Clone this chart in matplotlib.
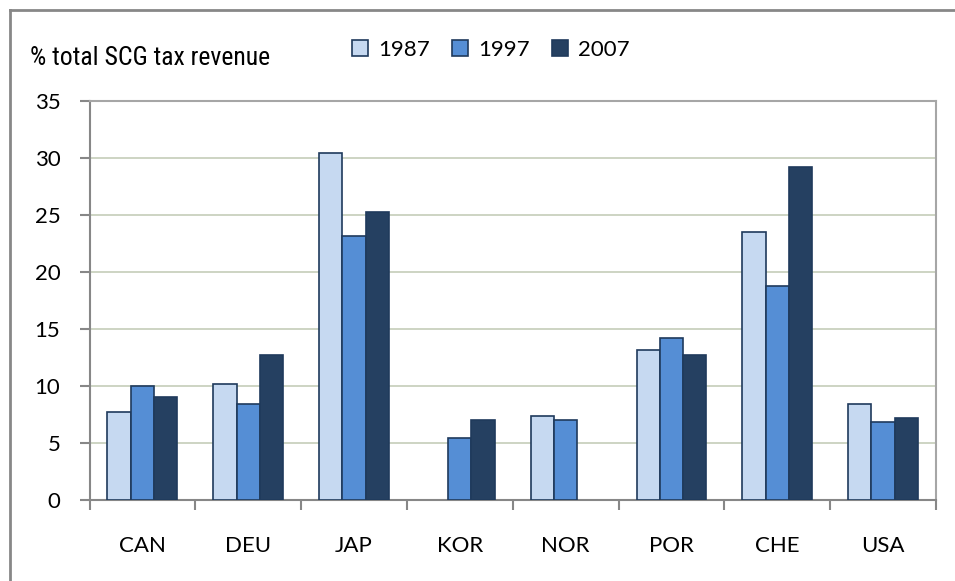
import numpy as np
import matplotlib.pyplot as plt
from matplotlib import font_manager
from matplotlib.lines import Line2D
from matplotlib.ticker import FixedLocator

countries = ["CAN", "DEU", "JAP", "KOR", "NOR", "POR", "CHE", "USA"]
years = ["1987", "1997", "2007"]
v1987 = [7.7, 10.2, 30.4, np.nan, 7.4, 13.2, 23.5, 8.4]
v1997 = [10.0, 8.4, 23.2, 5.4, 7.0, 14.2, 18.8, 6.8]
v2007 = [9.0, 12.7, 25.3, 7.0, np.nan, 12.7, 29.2, 7.2]
yticks = [0, 5, 10, 15, 20, 25, 30, 35]

colors = ["#C6D9F1", "#558ED5", "#254061"]
edge = "#1F3A5C"
axis_grey = "#878787"

# pick a condensed face for the title if one is installed
installed = {f.name for f in font_manager.fontManager.ttflist}
narrow_pref = ["Liberation Sans Narrow", "Roboto Condensed", "Open Sans Condensed",
               "DejaVu Sans Condensed", "Liberation Sans"]
narrow = [n for n in narrow_pref if n in installed][:1] + ["DejaVu Sans"]
num_font = ["Lato", "DejaVu Sans"]

fig = plt.figure(figsize=(9.55, 5.81), dpi=100)
W, H = 955, 581
ax = fig.add_axes([89.5 / W, 1 - 500 / H, (936 - 89.5) / W, (500 - 101) / H])

x = np.arange(len(countries))
w = 0.22
for i, (vals, c) in enumerate(zip([v1987, v1997, v2007], colors)):
    ax.bar(x + (i - 1) * w, vals, width=w, color=c, edgecolor=edge,
           linewidth=1.2, zorder=3, label=years[i])

ax.set_xlim(-0.5, len(countries) - 0.5)
ax.set_ylim(0, 35)
ax.set_yticks(yticks)
ax.set_yticklabels([str(t) for t in yticks], fontsize=16, family=num_font)
ax.yaxis.grid(True, color="#C9D1BE", linewidth=1.3, zorder=0)
ax.set_axisbelow(True)

ax.set_xticks(x)
ax.set_xticklabels(countries, fontsize=16, family=num_font)
ax.xaxis.set_minor_locator(FixedLocator(np.arange(-0.5, len(countries), 1)))
ax.tick_params(axis="x", which="major", length=0, pad=26)
ax.tick_params(axis="x", which="minor", length=7, width=1.5, color=axis_grey, direction="out")
ax.tick_params(axis="y", length=7, width=1.5, color=axis_grey, pad=14)

for s in ax.spines.values():
    s.set_color(axis_grey)
    s.set_linewidth(1.5)
ax.spines["top"].set_color("#A6A6A6")
ax.spines["right"].set_color("#A6A6A6")

# outer chart frame
fig.add_artist(Line2D([10 / W, 10 / W], [0, 1 - 10 / H], transform=fig.transFigure,
                      color=axis_grey, linewidth=2))
fig.add_artist(Line2D([10 / W, 1], [1 - 10 / H, 1 - 10 / H], transform=fig.transFigure,
                      color=axis_grey, linewidth=2))

fig.text(30 / W, 1 - 58 / H, "% total SCG tax revenue", fontsize=18.5,
         family=narrow, va="center", ha="left")

leg = fig.legend(loc="center", bbox_to_anchor=(491 / W, 1 - 50 / H), ncol=3,
                 frameon=False, handlelength=0.72, handleheight=0.72,
                 handletextpad=0.45, columnspacing=1.0, borderpad=0,
                 prop={"family": num_font, "size": 16})

fig.savefig("out.png", dpi=100)
